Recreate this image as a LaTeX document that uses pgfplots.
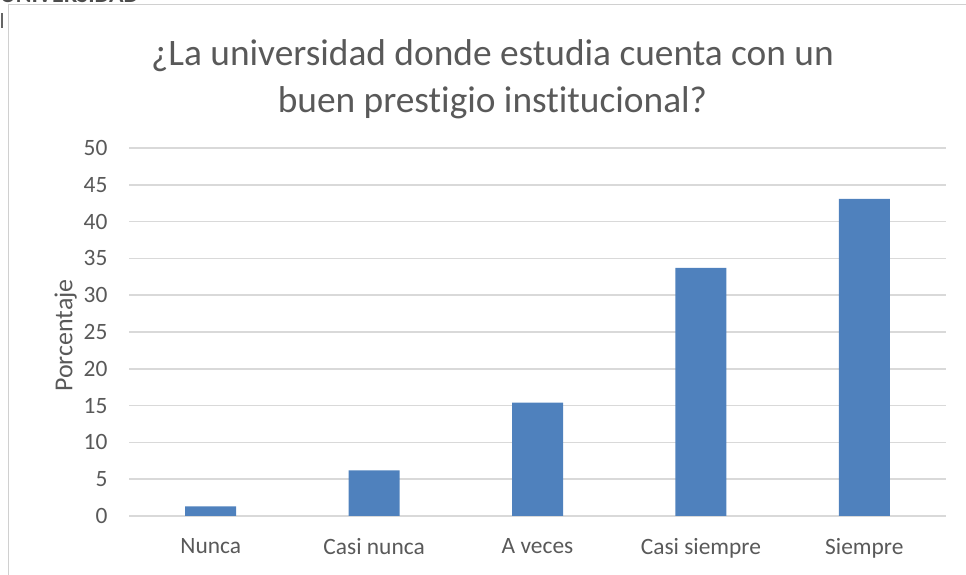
\documentclass[border=0pt]{standalone}
\usepackage{pgfplots}
\pgfplotsset{compat=1.18}
\usepackage{fontspec}
\setmainfont{Carlito}[Ligatures=NoCommon]
\definecolor{barblue}{HTML}{4F81BD}
\definecolor{gridgray}{HTML}{D9D9D9}
\definecolor{textgray}{HTML}{595959}
\definecolor{framegray}{HTML}{D0D0D0}
\begin{document}
\begin{tikzpicture}[x=1bp,y=1bp]
\path[use as bounding box] (0,0) rectangle (966,575);
% chart frame
\draw[framegray, line width=1bp] (8,0) -- (8,570) -- (966,570);
\node[anchor=base west, inner sep=0, text=black!70, font=\fontsize{24}{24}\selectfont\bfseries] at (0,572) {UNIVERSIDAD};
\draw[black!60, line width=2bp] (2,547) -- (2,562);
\begin{axis}[
    scale only axis,
    width=817bp, height=368bp,
    at={(129bp,59bp)}, anchor=south west,
    xmin=-0.5, xmax=4.5,
    ymin=0, ymax=50,
    ytick={0,5,...,50},
    xtick=data,
    xticklabels={Nunca,Casi nunca,A veces,Casi siempre,Siempre},
    ybar, bar width=51bp,
    axis line style={draw=none},
    major tick length=0pt,
    ymajorgrids, grid style={gridgray, line width=1.5bp},
    ticklabel style={text=textgray, font=\fontsize{23.5}{28}\selectfont},
    /pgf/number format/assume math mode=true,
    yticklabel style={xshift=-18bp},
    xticklabel style={yshift=-19bp},
    ylabel={Porcentaje},
    every axis y label/.style={at={(ticklabel cs:0.52)}, rotate=90, anchor=near ticklabel,
        xshift=-11bp, text=textgray, font=\fontsize{26}{30}\selectfont},
    title={¿La universidad donde estudia cuenta con un\\buen prestigio institucional?},
    title style={align=center, text=textgray, font=\fontsize{37.5}{47}\selectfont, yshift=20bp, xshift=-45bp},
    clip=false,
]
\addplot[fill=barblue, draw=none] coordinates {(0,1.3) (1,6.2) (2,15.4) (3,33.7) (4,43.1)};
\end{axis}
\end{tikzpicture}
\end{document}
